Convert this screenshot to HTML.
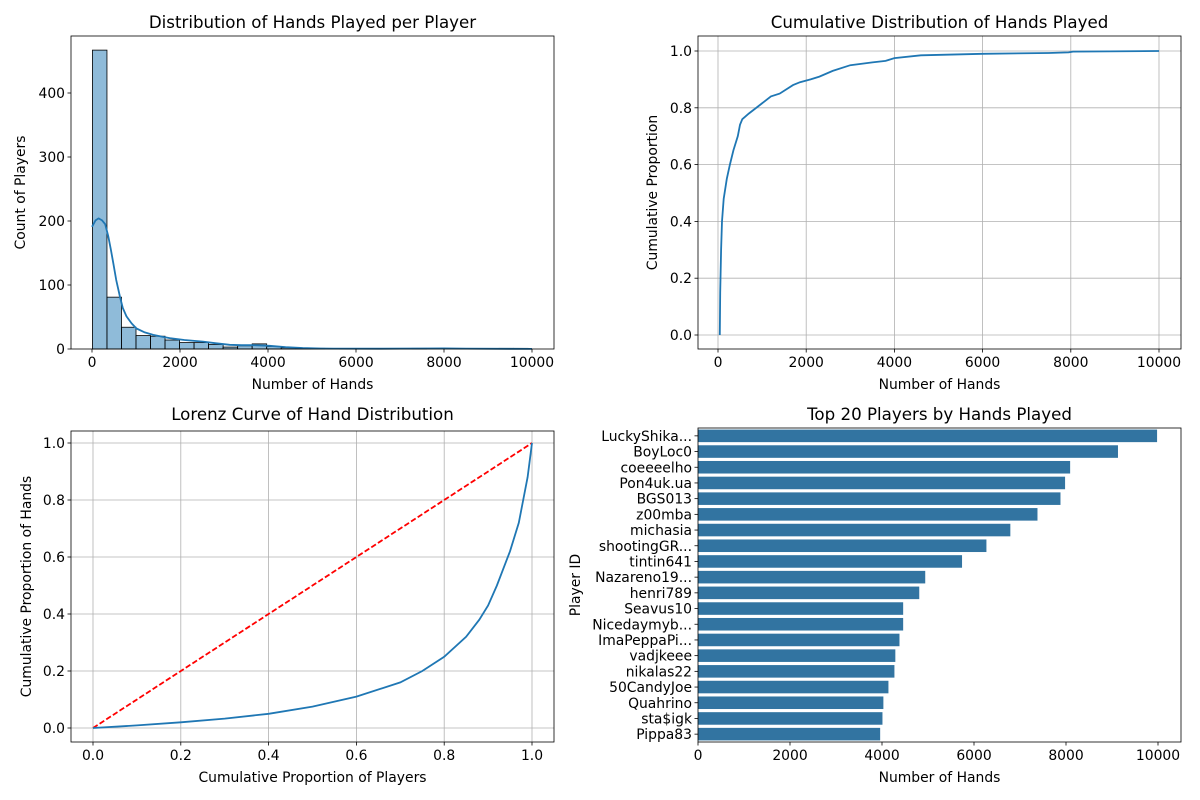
<!DOCTYPE html>
<html><head><meta charset="utf-8"><style>
body{margin:0;background:#fff}
svg{font-family:"DejaVu Sans","Liberation Sans",sans-serif;display:block}
</style></head><body>
<svg id="c" width="1200" height="800" viewBox="0 0 1200 800"></svg>
<script>
// ---- data ----
const histCounts=[467,81,34,21,20,14,10,10,7,3,5,8,4,2,1,1,0,0,0,0,0,0,1,0,0,0,0,0,1,1];
const histStart=10, histBin=330;
const kdeX=[0,80,150,230,300,370,430,483,550,634,700,785,900,1012,1200,1390,1600,1767,2100,2523,2800,3127,3400,3656,4033,4400,4789,5200,5500,6500,7500,8000,8500,9500,10000];
const kdeY=[191,201,204,201,195,176,155,134,108,82,64,51,40,32,26,22,19,17,14,11.5,9,6.5,6,6,5,3,1.5,0.8,0.6,0.5,0.8,1,0.7,0.3,0.2];
const cdfX=[40,50,70,90,130,200,270,350,450,500,550,700,950,1200,1400,1700,1860,2100,2300,2600,3000,3500,3800,4000,4600,6000,7500,7950,8050,10000];
const cdfY=[0,0.15,0.3,0.4,0.48,0.55,0.6,0.65,0.7,0.74,0.76,0.78,0.81,0.84,0.85,0.88,0.89,0.9,0.91,0.93,0.95,0.96,0.965,0.975,0.985,0.99,0.993,0.995,0.998,1.0];
const lorX=[0,0.1,0.2,0.3,0.4,0.5,0.6,0.7,0.75,0.8,0.85,0.88,0.9,0.92,0.95,0.97,0.98,0.99,1];
const lorY=[0,0.009,0.02,0.033,0.05,0.075,0.11,0.16,0.2,0.25,0.32,0.38,0.43,0.5,0.62,0.72,0.8,0.88,1];
const players=["LuckyShika...","BoyLoc0","coeeeelho","Pon4uk.ua","BGS013","z00mba","michasia","shootingGR...","tintin641","Nazareno19...","henri789","Seavus10","Nicedaymyb...","ImaPeppaPi...","vadjkeee","nikalas22","50CandyJoe","Quahrino","sta$igk","Pippa83"];
const hands=[9980,9130,8090,7980,7880,7380,6790,6270,5740,4940,4810,4460,4460,4380,4290,4270,4140,4030,4010,3960];
const xTicksK=[0,2000,4000,6000,8000,10000];
const histYTicks=[0,100,200,300,400];
const unitTicks=[0,0.2,0.4,0.6,0.8,1.0];

const svg=document.getElementById('c');
const NS='http://www.w3.org/2000/svg';
const FS=13.9, TS=16.67;
function el(tag,attrs,parent){const e=document.createElementNS(NS,tag);for(const k in attrs)e.setAttribute(k,attrs[k]);(parent||svg).appendChild(e);return e;}
function txt(s,x,y,size,anchor,parent,rot){const t=el('text',{x:x,y:y,'font-size':size,'text-anchor':anchor||'middle',fill:'#000'},parent);if(rot)t.setAttribute('transform','rotate(-90 '+x+' '+y+')');t.textContent=s;return t;}
function lin(d0,d1,r0,r1){return v=>r0+(v-d0)*(r1-r0)/(d1-d0);}
const fInt=v=>String(v), fDec=v=>v.toFixed(1);
function frame(g,L,T,R,B){el('rect',{x:L,y:T,width:R-L,height:B-T,fill:'none',stroke:'#000','stroke-width':0.8},g);}
function xTicks(g,ticks,sx,B,f,grid,T){ticks.forEach(v=>{const x=sx(v);if(grid)el('line',{x1:x,x2:x,y1:T,y2:B,stroke:'#b0b0b0','stroke-width':0.8},g);el('line',{x1:x,x2:x,y1:B,y2:B+3.5,stroke:'#000','stroke-width':0.8},g);txt(f(v),x,B+18,FS,'middle',g);});}
function yTicks(g,ticks,sy,L,f,grid,R){ticks.forEach(v=>{const y=sy(v);if(grid)el('line',{x1:L,x2:R,y1:y,y2:y,stroke:'#b0b0b0','stroke-width':0.8},g);el('line',{x1:L-3.5,x2:L,y1:y,y2:y,stroke:'#000','stroke-width':0.8},g);txt(f(v),L-6,y+5,FS,'end',g);});}
function path(xs,ys,sx,sy){return xs.map((v,i)=>(i?'L':'M')+sx(v).toFixed(1)+' '+sy(ys[i]).toFixed(1)).join(' ');}

// ---- panel 1: histogram ----
{const g=el('g',{});
const L=71,T=36,R=554,B=349;const sx=lin(0,10000,92,532),sy=lin(0,400,349,93);
histCounts.forEach((c,i)=>{if(c<=0)return;const x0=sx(histStart+i*histBin),x1=sx(histStart+(i+1)*histBin);
const r=el('rect',{x:x0,y:sy(c),width:x1-x0,height:sy(0)-sy(c),fill:'rgba(31,119,180,0.5)',stroke:'#000','stroke-width':0.8},g);
});
const k=el('path',{d:path(kdeX,kdeY,sx,sy),fill:'none',stroke:'#1f77b4','stroke-width':1.8,'stroke-linejoin':'round'},g);

frame(g,L,T,R,B);xTicks(g,xTicksK,sx,B,fInt);yTicks(g,histYTicks,sy,L,fInt);
txt('Distribution of Hands Played per Player',(L+R)/2,28,TS,'middle',g);
txt('Number of Hands',(L+R)/2,389,FS,'middle',g);txt('Count of Players',25,(T+B)/2,FS,'middle',g,true);}

// ---- panel 2: CDF ----
{const g=el('g',{});
const L=698,T=36,R=1181,B=349;const sx=lin(0,10000,718,1159),sy=lin(0,1,335,51);
xTicks(g,xTicksK,sx,B,fInt,true,T);yTicks(g,unitTicks,sy,L,fDec,true,R);
const p=el('path',{d:path(cdfX,cdfY,sx,sy),fill:'none',stroke:'#1f77b4','stroke-width':1.8},g);

frame(g,L,T,R,B);
txt('Cumulative Distribution of Hands Played',(L+R)/2,28,TS,'middle',g);
txt('Number of Hands',(L+R)/2,389,FS,'middle',g);txt('Cumulative Proportion',657,(T+B)/2,FS,'middle',g,true);}

// ---- panel 3: Lorenz ----
{const g=el('g',{});
const L=71,T=431,R=554,B=742;const sx=lin(0,1,93,532),sy=lin(0,1,728,443);
xTicks(g,unitTicks,sx,B,fDec,true,T);yTicks(g,unitTicks,sy,L,fDec,true,R);
const e=el('line',{x1:sx(0),y1:sy(0),x2:sx(1),y2:sy(1),stroke:'#ff0000','stroke-width':1.8,'stroke-dasharray':'5.5,2.4'},g);

const p=el('path',{d:path(lorX,lorY,sx,sy),fill:'none',stroke:'#1f77b4','stroke-width':1.8},g);

frame(g,L,T,R,B);
txt('Lorenz Curve of Hand Distribution',(L+R)/2,420,TS,'middle',g);
txt('Cumulative Proportion of Players',(L+R)/2,782,FS,'middle',g);txt('Cumulative Proportion of Hands',31,(T+B)/2,FS,'middle',g,true);}

// ---- panel 4: bars ----
{const g=el('g',{});
const L=698,T=428,R=1181,B=742;const sx=lin(0,10000,698,1158);const step=(B-T)/players.length;
players.forEach((n,i)=>{const cy=T+step*(i+0.5);
const r=el('rect',{x:sx(0),y:cy-step*0.4,width:sx(hands[i])-sx(0),height:step*0.8,fill:'#3274a1'},g);

el('line',{x1:L-3.5,x2:L,y1:cy,y2:cy,stroke:'#000','stroke-width':0.8},g);txt(n,L-6,cy+5,FS,'end',g);});
frame(g,L,T,R,B);xTicks(g,xTicksK,sx,B,fInt);
txt('Top 20 Players by Hands Played',(L+R)/2,420,TS,'middle',g);
txt('Number of Hands',(L+R)/2,782,FS,'middle',g);txt('Player ID',580,(T+B)/2,FS,'middle',g,true);}
</script>
</body></html>
